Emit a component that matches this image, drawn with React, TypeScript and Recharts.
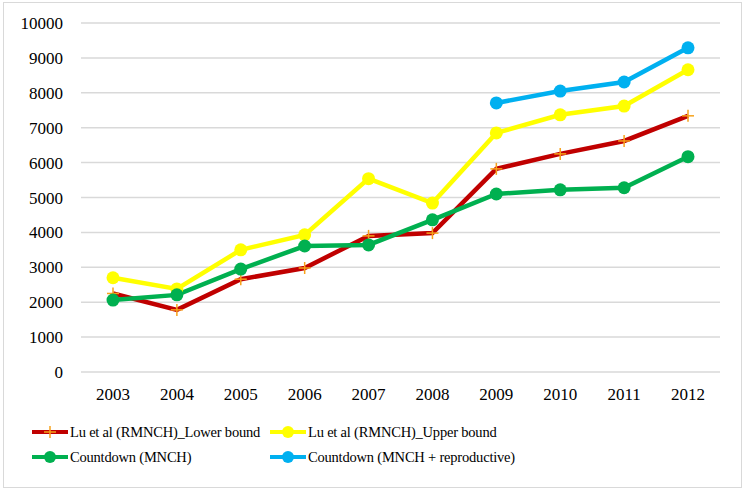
import { CartesianGrid, Line, LineChart, XAxis, YAxis } from "recharts";

const years = ["2003", "2004", "2005", "2006", "2007", "2008", "2009", "2010", "2011", "2012"];
const luLower = [2250, 1780, 2660, 2980, 3900, 3980, 5820, 6250, 6620, 7340];
const luUpper = [2700, 2380, 3500, 3930, 5540, 4840, 6850, 7370, 7620, 8660];
const countdownMnch = [2060, 2210, 2950, 3610, 3640, 4360, 5100, 5220, 5280, 6170];
const countdownRepro = [null, null, null, null, null, null, 7710, 8050, 8310, 9290];
const yTicks = [0, 1000, 2000, 3000, 4000, 5000, 6000, 7000, 8000, 9000, 10000];

const data = years.map((year, i) => ({
  year,
  lower: luLower[i],
  upper: luUpper[i],
  mnch: countdownMnch[i],
  repro: countdownRepro[i],
}));

const FONT = "Liberation Serif, Times New Roman, DejaVu Serif, serif";

const series = [
  { key: "lower", name: "Lu et al (RMNCH)_Lower bound", color: "#c00000", marker: "plus" },
  { key: "upper", name: "Lu et al (RMNCH)_Upper bound", color: "#ffff00", marker: "circle" },
  { key: "mnch", name: "Countdown (MNCH)", color: "#00b050", marker: "circle" },
  { key: "repro", name: "Countdown (MNCH + reproductive)", color: "#00b0f0", marker: "circle" },
];

function PlusDot(props: any) {
  const { cx, cy } = props;
  if (cx == null || cy == null) return null;
  return (
    <g>
      <line x1={cx - 6} y1={cy} x2={cx + 6} y2={cy} stroke="#f7a21b" strokeWidth={1.5} />
      <line x1={cx} y1={cy - 6} x2={cx} y2={cy + 6} stroke="#f7a21b" strokeWidth={1.5} />
    </g>
  );
}

function LegendIcon({ color, marker }: { color: string; marker: string }) {
  return (
    <svg width={36} height={16} style={{ display: "block", flexShrink: 0 }}>
      <line x1={0} y1={8} x2={36} y2={8} stroke={color} strokeWidth={4} />
      {marker === "plus" ? (
        <g>
          <line x1={12} y1={8} x2={24} y2={8} stroke="#f7a21b" strokeWidth={1.5} />
          <line x1={18} y1={2} x2={18} y2={14} stroke="#f7a21b" strokeWidth={1.5} />
        </g>
      ) : (
        <circle cx={18} cy={8} r={6} fill={color} />
      )}
    </svg>
  );
}

function CustomLegend() {
  return (
    <div
      style={{
        position: "absolute",
        left: 32,
        top: 423,
        display: "grid",
        gridTemplateColumns: "238px 320px",
        rowGap: 7,
        fontFamily: FONT,
        fontSize: 14.5,
        letterSpacing: -0.2,
        color: "#000",
      }}
    >
      {series.map((s) => (
        <div key={s.key} style={{ display: "flex", alignItems: "center", height: 18, whiteSpace: "nowrap" }}>
          <LegendIcon color={s.color} marker={s.marker} />
          <span style={{ marginLeft: 2 }}>{s.name}</span>
        </div>
      ))}
    </div>
  );
}

export default function App() {
  return (
    <div style={{ position: "absolute", left: 0, top: 0, width: 745, height: 491, background: "#fff" }}>
      <div
        style={{
          position: "absolute",
          left: 3,
          top: 2,
          width: 737,
          height: 484,
          border: "1px solid #d9d9d9",
        }}
      />
      <div style={{ position: "absolute", left: 0, top: 0 }}>
        <LineChart
          width={745}
          height={491}
          data={data}
          margin={{ top: 23, right: 25, left: 0, bottom: 89 }}
        >
          <CartesianGrid horizontal vertical={false} stroke="#d9d9d9" strokeWidth={1.5} />
          <XAxis
            dataKey="year"
            axisLine={false}
            tickLine={false}
            tickMargin={10}
            height={30}
            padding={{ left: 32, right: 32 }}
            tick={{ fill: "#000", fontSize: 17, fontFamily: FONT }}
          />
          <YAxis
            domain={[0, 10000]}
            ticks={yTicks}
            axisLine={false}
            tickLine={false}
            tickMargin={12}
            width={81}
            tick={{ fill: "#000", fontSize: 17, fontFamily: FONT }}
          />
          <Line
            dataKey="lower"
            name={series[0].name}
            stroke="#c00000"
            strokeWidth={4.5}
            dot={<PlusDot />}
            activeDot={false}
            isAnimationActive={false}
          />
          <Line
            dataKey="upper"
            name={series[1].name}
            stroke="#ffff00"
            strokeWidth={4.5}
            dot={{ r: 6.5, fill: "#ffff00", stroke: "#ffff00", strokeWidth: 0 }}
            activeDot={false}
            isAnimationActive={false}
          />
          <Line
            dataKey="mnch"
            name={series[2].name}
            stroke="#00b050"
            strokeWidth={4.5}
            dot={{ r: 6.5, fill: "#00b050", stroke: "#00b050", strokeWidth: 0 }}
            activeDot={false}
            isAnimationActive={false}
          />
          <Line
            dataKey="repro"
            name={series[3].name}
            stroke="#00b0f0"
            strokeWidth={4.5}
            dot={{ r: 6.5, fill: "#00b0f0", stroke: "#00b0f0", strokeWidth: 0 }}
            activeDot={false}
            isAnimationActive={false}
          />
        </LineChart>
      </div>
      <CustomLegend />
    </div>
  );
}
